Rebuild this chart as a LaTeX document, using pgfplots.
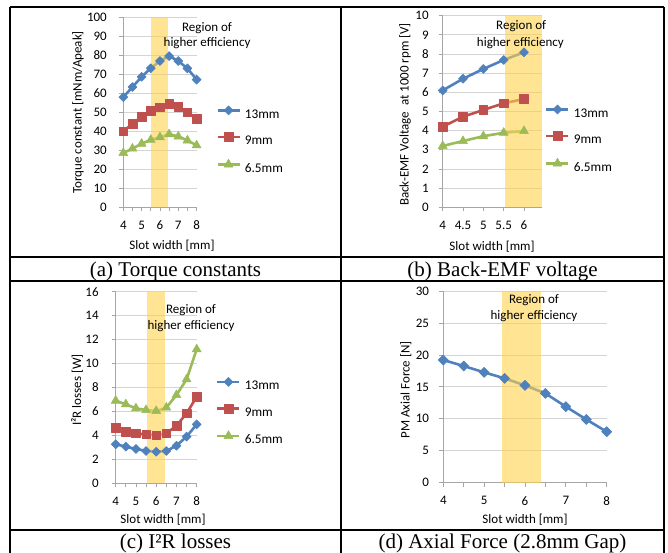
\documentclass[border=0pt]{standalone}
\usepackage{fontspec}
\setmainfont{Carlito}
\newfontfamily\capfont{Liberation Serif}
\usepackage{pgfplots}
\pgfplotsset{compat=1.18}

\definecolor{xlblue}{HTML}{4F81BD}
\definecolor{xlred}{HTML}{C0504D}
\definecolor{xlgreen}{HTML}{9BBB59}
\definecolor{band}{HTML}{FFD24D}
\definecolor{gridgray}{HTML}{D4D4D4}
\definecolor{axgray}{HTML}{A6A6A6}

\pgfplotsset{
  xlchart/.style={
    scale only axis, clip=false, anchor=south west,
    axis lines=left,
    axis line style={-, draw=axgray, line width=0.8pt},
    ymajorgrids, grid style={draw=gridgray, line width=0.8pt},
    tick align=outside, major tick length=4pt, minor tick length=4pt,
    tick style={draw=axgray, line width=0.8pt},
    font=\fontsize{13}{15}\selectfont,
    /pgf/number format/assume math mode=true,
    xticklabel style={yshift=-6pt},
    yticklabel style={xshift=-4pt},
    xlabel style={anchor=center},
    ylabel style={anchor=center},
    legend style={draw=none, fill=none, inner sep=0pt, row sep=11pt,
                  column sep=2pt,
                  anchor=north west, nodes={inner sep=2pt},
                  font=\fontsize{13.3}{15}\selectfont},
    legend cell align=left,
    legend image code/.code={
      \draw[##1, mark repeat=2, mark phase=2]
        plot coordinates {(0pt,4.2pt)(11pt,4.2pt)(22pt,4.2pt)};},
  },
  s13/.style={xlblue, line width=2.6pt, line join=round, mark=square*,
              mark size=3.2pt, mark options={rotate=45, solid, line width=0.5pt}},
  s9/.style={xlred, line width=2.6pt, line join=round, mark=square*,
             mark size=4.3pt, mark options={solid, line width=0.5pt}},
  s65/.style={xlgreen, line width=2.6pt, line join=round, mark=triangle*,
              mark size=5.2pt, mark options={solid, line width=0.5pt}},
  bandfill/.style={draw=none, fill=band, fill opacity=0.6, forget plot},
}

\begin{document}
\begin{tikzpicture}
% table frame
\draw[line width=2pt] (10pt,-7pt) -- (664pt,-7pt);
\draw[line width=2pt] (10pt,-257pt) -- (664pt,-257pt);
\draw[line width=2pt] (10pt,-281pt) -- (664pt,-281pt);
\draw[line width=2pt] (10pt,-530pt) -- (664pt,-530pt);
\draw[line width=2pt] (10pt,-7pt) -- (10pt,-560pt);
\draw[line width=2pt] (341pt,-7pt) -- (341pt,-560pt);
\draw[line width=2pt] (664pt,-7pt) -- (664pt,-560pt);

% (a) torque constants
\begin{axis}[xlchart, at={(123.3pt,-207.3pt)}, width=73.3pt, height=190pt,
  xmin=4, xmax=8, ymin=0, ymax=100,
  xtick={4,5,6,7,8}, minor x tick num=1, ytick={0,10,...,100},
  yticklabel style={xshift=-5pt},
  xlabel={Slot width [mm]}, ylabel={Torque constant [mNm/Apeak]},
  xlabel style={at={(axis description cs:0.664,-0.204)}},
  ylabel style={at={(axis description cs:-0.618,0.5)}},
  legend style={at={(axis description cs:1.265,0.535)}}]
\addplot[s13] coordinates {(4,58)(4.5,63.3)(5,68.7)(5.5,73.2)(6,77)(6.5,79.6)(7,77)(7.5,73.1)(8,67.2)};
\addlegendentry{13mm}
\addplot[s9] coordinates {(4,40.1)(4.5,43.9)(5,47.7)(5.5,50.8)(6,52.6)(6.5,54.4)(7,53)(7.5,50)(8,46.5)};
\addlegendentry{9mm}
\addplot[s65] coordinates {(4,28.6)(4.5,30.9)(5,33.5)(5.5,35.5)(6,36.9)(6.5,38.5)(7,37.3)(7.5,35.2)(8,32.6)};
\addlegendentry{6.5mm}
\addplot[bandfill] coordinates {(5.5,0)(5.5,100)(6.42,100)(6.42,0)} -- cycle;
\node at (axis cs:8.57,94.4) {Region of};
\node at (axis cs:8.57,86.5) {higher efficiency};
\end{axis}

% (b) back-EMF
\begin{axis}[xlchart, at={(442.7pt,-207.3pt)}, width=99.6pt, height=191.6pt,
  xmin=4, xmax=6.45, ymin=0, ymax=10,
  xtick={4,4.5,5,5.5,6}, xticklabels={4,4.5,5,5.5,6}, ytick={0,1,...,10},
  yticklabel style={xshift=-2.5pt},
  xlabel={Slot width [mm]}, ylabel={Back-EMF Voltage\ \ at 1000 rpm [V]},
  xlabel style={at={(axis description cs:0.495,-0.207)}},
  ylabel style={at={(axis description cs:-0.378,0.484)}},
  legend style={at={(axis description cs:1.027,0.5355)}}]
\addplot[s13] coordinates {(4,6.1)(4.5,6.71)(5,7.22)(5.5,7.69)(6,8.09)};
\addlegendentry{13mm}
\addplot[s9] coordinates {(4,4.21)(4.5,4.73)(5,5.08)(5.5,5.43)(6,5.65)};
\addlegendentry{9mm}
\addplot[s65] coordinates {(4,3.2)(4.5,3.46)(5,3.71)(5.5,3.89)(6,3.98)};
\addlegendentry{6.5mm}
\addplot[bandfill] coordinates {(5.53,0)(5.53,10)(6.45,10)(6.45,0)} -- cycle;
\node at (axis cs:5.93,9.46) {Region of};
\node at (axis cs:5.91,8.58) {higher efficiency};
\end{axis}

% (c) I2R losses
\begin{axis}[xlchart, at={(115.7pt,-483.3pt)}, width=81pt, height=191.6pt,
  xmin=4, xmax=8, ymin=0, ymax=16,
  xtick={4,5,6,7,8}, minor x tick num=1, ytick={0,2,...,16},
  yticklabel style={xshift=-5.5pt},
  xlabel={Slot width [mm]}, ylabel={I²R losses [W]},
  xlabel style={at={(axis description cs:0.584,-0.192)}},
  ylabel style={at={(axis description cs:-0.478,0.487)}},
  legend style={at={(axis description cs:1.238,0.554)}}]
\addplot[s13] coordinates {(4,3.26)(4.5,3.06)(5,2.87)(5.5,2.7)(6,2.64)(6.5,2.7)(7,3.14)(7.5,3.9)(8,4.92)};
\addlegendentry{13mm}
\addplot[s9] coordinates {(4,4.65)(4.5,4.31)(5,4.17)(5.5,4.09)(6,4.03)(6.5,4.17)(7,4.81)(7.5,5.84)(8,7.23)};
\addlegendentry{9mm}
\addplot[s65] coordinates {(4,6.9)(4.5,6.6)(5,6.26)(5.5,6.12)(6,6.04)(6.5,6.32)(7,7.37)(7.5,8.68)(8,11.19)};
\addlegendentry{6.5mm}
\addplot[bandfill] coordinates {(5.56,0)(5.56,16)(6.42,16)(6.42,0)} -- cycle;
\node at (axis cs:7.72,14.47) {Region of};
\node at (axis cs:7.72,13.16) {higher efficiency};
\end{axis}

% (d) axial force
\begin{axis}[xlchart, at={(443.3pt,-482.7pt)}, width=163.4pt, height=191.7pt,
  xmin=4, xmax=8, ymin=0, ymax=30,
  xtick={4,5,6,7,8}, minor x tick num=1, ytick={0,5,...,30},
  yticklabel style={xshift=-2.7pt},
  xlabel={Slot width [mm]}, ylabel={PM Axial Force [N]},
  xlabel style={at={(axis description cs:0.5,-0.195)}},
  ylabel style={at={(axis description cs:-0.23,0.484)}}]
\addplot[s13, mark size=3.6pt] coordinates {(4,19.2)(4.5,18.26)(5,17.27)(5.5,16.33)(6,15.23)(6.5,13.98)(7,11.9)(7.5,9.9)(8,7.98)};
\addplot[bandfill] coordinates {(5.44,0)(5.44,30)(6.39,30)(6.39,0)} -- cycle;
\node at (axis cs:6.22,28.5) {Region of};
\node at (axis cs:6.22,26.1) {higher efficiency};
\end{axis}

% captions
\node[anchor=base, font=\capfont\fontsize{21}{24}\selectfont] at (175.5pt,-276pt) {(a) Torque constants};
\node[anchor=base, font=\capfont\fontsize{21}{24}\selectfont] at (502.5pt,-276pt) {(b) Back-EMF voltage};
\node[anchor=base, font=\capfont\fontsize{21}{24}\selectfont] at (175.5pt,-548.5pt) {(c) I²R losses};
\node[anchor=base, font=\capfont\fontsize{21}{24}\selectfont] at (502.5pt,-548.5pt) {(d) Axial Force (2.8mm Gap)};

\pgfresetboundingbox
\useasboundingbox (0pt,0pt) rectangle (668pt,-552pt);
\end{tikzpicture}
\end{document}
